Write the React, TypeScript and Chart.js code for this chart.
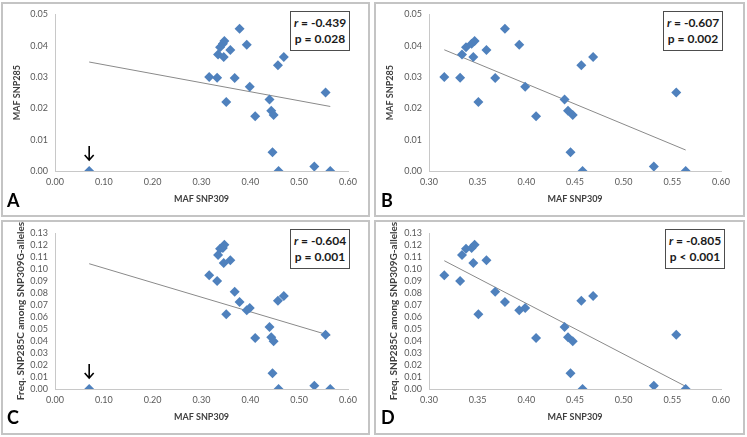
import React, { useEffect, useRef } from "react";
import { Chart, registerables } from "chart.js";

Chart.register(...registerables);

// ---- data ----
const snp309 = [0.3157, 0.332, 0.3339, 0.338, 0.3438, 0.3469, 0.3455, 0.3507, 0.359, 0.368, 0.378, 0.3927, 0.3988, 0.41, 0.4393, 0.4428, 0.4477, 0.4454, 0.4565, 0.4578, 0.4686, 0.531, 0.554, 0.5637];
const snp285 = [0.03, 0.0298, 0.0372, 0.0395, 0.0406, 0.0415, 0.0364, 0.022, 0.0386, 0.0297, 0.0454, 0.0403, 0.0269, 0.0175, 0.0228, 0.0192, 0.0179, 0.006, 0.0338, 0.0, 0.0364, 0.0014, 0.0251, 0.0];
const freq285C = [0.0947, 0.09, 0.1117, 0.1169, 0.1175, 0.1203, 0.105, 0.0622, 0.1072, 0.0811, 0.0725, 0.0656, 0.0675, 0.0425, 0.0517, 0.0431, 0.0397, 0.0131, 0.0736, 0.0, 0.0775, 0.0028, 0.0453, 0.0];
const outlierSnp309 = [0.07];
const outlierSnp285 = [0.0];
const outlierFreq = [0.0];

const trendAx = [0.07, 0.5637];
const trendAy = [0.0348, 0.0206];
const trendBx = [0.3157, 0.5637];
const trendBy = [0.0387, 0.0067];
const trendCx = [0.07, 0.5637];
const trendCy = [0.1044, 0.0445];
const trendDx = [0.3157, 0.5637];
const trendDy = [0.1069, 0.0022];

// tick labels
const xTicksWide = [0, 0.1, 0.2, 0.3, 0.4, 0.5, 0.6];
const xTicksNarrow = [0.3, 0.35, 0.4, 0.45, 0.5, 0.55, 0.6];
const yTicksMaf = [0, 0.01, 0.02, 0.03, 0.04, 0.05];
const yTicksFreq = [0, 0.01, 0.02, 0.03, 0.04, 0.05, 0.06, 0.07, 0.08, 0.09, 0.1, 0.11, 0.12, 0.13];

const rLabels = ["-0.439", "-0.607", "-0.604", "-0.805"];
const pLabels = ["p = 0.028", "p = 0.002", "p = 0.001", "p < 0.001"];
const panelLetters = ["A", "B", "C", "D"];
const xTitle = "MAF SNP309";
const yTitles = ["MAF SNP285", "MAF SNP285", "Freq. SNP285C among SNP309G-alleles", "Freq. SNP285C among SNP309G-alleles"];

const FONT = "Lato, 'Open Sans', sans-serif";
const BLUE = "#4F81BD";

const pts = (xs: number[], ys: number[]) => xs.map((x, i) => ({ x, y: ys[i] }));

const arrowPlugin = {
  id: "arrowMark",
  afterDatasetsDraw(chart: any) {
    const opt = chart.options.plugins.arrowMark;
    if (!opt || !opt.show) return;
    const xs = chart.scales.x;
    const ys = chart.scales.y;
    const ctx = chart.ctx;
    const px = xs.getPixelForValue(opt.x);
    const py = ys.getPixelForValue(opt.y);
    ctx.save();
    ctx.strokeStyle = "#000";
    ctx.lineWidth = 1.6;
    ctx.beginPath();
    ctx.moveTo(px, py - 25);
    ctx.lineTo(px, py - 11);
    ctx.moveTo(px - 4.5, py - 16);
    ctx.lineTo(px, py - 11);
    ctx.lineTo(px + 4.5, py - 16);
    ctx.stroke();
    ctx.restore();
  },
};

type PanelCfg = {
  left: number; top: number; w: number; h: number;
  area: { l: number; r: number; t: number; b: number };
  xTicks: number[]; yTicks: number[];
  xs: number[]; ys: number[];
  tx: number[]; ty: number[];
  arrow: boolean;
  idx: number;
  yTitleSize: number; yTitlePad: number;
  box: { l: number; t: number; w: number; h: number };
  letter: { l: number; t: number };
};

const panels: PanelCfg[] = [
  { left: 1, top: 2, w: 369, h: 215, area: { l: 54, r: 347, t: 12, b: 169 }, xTicks: xTicksWide, yTicks: yTicksMaf,
    xs: [...outlierSnp309, ...snp309], ys: [...outlierSnp285, ...snp285], tx: trendAx, ty: trendAy, arrow: true, idx: 0,
    yTitleSize: 9, yTitlePad: 11, box: { l: 290, t: 11, w: 60, h: 40 }, letter: { l: 7, t: 189 } },
  { left: 374, top: 2, w: 371, h: 215, area: { l: 55, r: 347, t: 12, b: 169 }, xTicks: xTicksNarrow, yTicks: yTicksMaf,
    xs: snp309, ys: snp285, tx: trendBx, ty: trendBy, arrow: false, idx: 1,
    yTitleSize: 9, yTitlePad: 11, box: { l: 663, t: 11, w: 60, h: 40 }, letter: { l: 381, t: 189 } },
  { left: 1, top: 220, w: 369, h: 215, area: { l: 54, r: 347, t: 13, b: 169 }, xTicks: xTicksWide, yTicks: yTicksFreq,
    xs: [...outlierSnp309, ...snp309], ys: [...outlierFreq, ...freq285C], tx: trendCx, ty: trendCy, arrow: true, idx: 2,
    yTitleSize: 10, yTitlePad: 14, box: { l: 290, t: 229, w: 60, h: 40 }, letter: { l: 7, t: 406 } },
  { left: 374, top: 220, w: 371, h: 215, area: { l: 55, r: 347, t: 13, b: 169 }, xTicks: xTicksNarrow, yTicks: yTicksFreq,
    xs: snp309, ys: freq285C, tx: trendDx, ty: trendDy, arrow: false, idx: 3,
    yTitleSize: 10, yTitlePad: 14, box: { l: 665, t: 229, w: 60, h: 40 }, letter: { l: 381, t: 406 } },
];

function Panel({ cfg }: { cfg: PanelCfg }) {
  const ref = useRef<HTMLCanvasElement | null>(null);
  useEffect(() => {
    if (!ref.current) return;
    const a = cfg.area;
    const chart = new Chart(ref.current, {
      type: "scatter",
      data: {
        datasets: [
          {
            data: pts(cfg.tx, cfg.ty),
            showLine: true,
            borderColor: "#8a8a8a",
            borderWidth: 1,
            pointRadius: 0,
            order: 2,
          },
          {
            data: pts(cfg.xs, cfg.ys),
            pointStyle: "rectRot",
            pointRadius: 5,
            backgroundColor: BLUE,
            borderColor: BLUE,
            borderWidth: 0,
            order: 1,
          },
        ],
      },
      options: {
        responsive: false,
        animation: false,
        events: [],
        layout: { padding: { left: 0, top: a.t, right: cfg.w - a.r, bottom: 0 } },
        plugins: {
          legend: { display: false },
          tooltip: { enabled: false },
          arrowMark: { show: cfg.arrow, x: outlierSnp309[0], y: 0 },
        } as any,
        scales: {
          x: {
            type: "linear",
            min: cfg.xTicks[0],
            max: cfg.xTicks[cfg.xTicks.length - 1],
            afterFit: (s: any) => { s.height = cfg.h - a.b; },
            afterBuildTicks: (s: any) => { s.ticks = cfg.xTicks.map((v) => ({ value: v })); },
            ticks: {
              autoSkip: false,
              color: "#595959",
              font: { family: FONT, size: 9 },
              padding: 6,
              maxRotation: 0,
              callback: (v: any) => Number(v).toFixed(2),
            },
            grid: { display: false, drawTicks: false },
            border: { display: true, color: "#c8c8c8", width: 1 },
            title: {
              display: true,
              text: xTitle,
              color: "#404040",
              font: { family: FONT, size: 9, weight: "bold", lineHeight: 1.2 },
              padding: { top: 0, bottom: 13 },
            },
          },
          y: {
            type: "linear",
            min: cfg.yTicks[0],
            max: cfg.yTicks[cfg.yTicks.length - 1],
            afterFit: (s: any) => { s.width = a.l; },
            afterBuildTicks: (s: any) => { s.ticks = cfg.yTicks.map((v) => ({ value: v })); },
            ticks: {
              autoSkip: false,
              color: "#595959",
              font: { family: FONT, size: 9 },
              padding: 7,
              callback: (v: any) => Number(v).toFixed(2),
            },
            grid: { display: false, drawTicks: false },
            border: { display: true, color: "#c8c8c8", width: 1 },
            title: {
              display: true,
              text: yTitles[cfg.idx],
              color: "#404040",
              font: { family: FONT, size: cfg.yTitleSize, weight: "bold", lineHeight: 1.2 },
              padding: { top: cfg.yTitlePad, bottom: 0 },
            },
          },
        },
      } as any,
      plugins: [arrowPlugin],
    });
    return () => chart.destroy();
  }, [cfg]);

  return (
    <>
      <canvas
        ref={ref}
        width={cfg.w}
        height={cfg.h}
        style={{ position: "absolute", left: cfg.left, top: cfg.top, width: cfg.w, height: cfg.h }}
      />
      <div
        style={{
          position: "absolute", left: cfg.left, top: cfg.top, width: cfg.w, height: cfg.h,
          border: "2px solid #c4c4c4", boxSizing: "border-box", pointerEvents: "none",
        }}
      />
      <div
        style={{
          position: "absolute", left: cfg.box.l, top: cfg.box.t, width: cfg.box.w, height: cfg.box.h,
          border: "1px solid #4d4d4d", boxSizing: "border-box", background: "#fff",
          fontFamily: FONT, fontWeight: "bold", fontSize: 12, color: "#1a1a1a",
          display: "flex", flexDirection: "column", justifyContent: "center", alignItems: "center", lineHeight: "16px",
        }}
      >
        <div><i>r</i> = {rLabels[cfg.idx]}</div>
        <div>{pLabels[cfg.idx]}</div>
      </div>
      <div
        style={{
          position: "absolute", left: cfg.letter.l, top: cfg.letter.t,
          fontFamily: FONT, fontWeight: "bold", fontSize: 18, lineHeight: "22px", color: "#000",
        }}
      >
        {panelLetters[cfg.idx]}
      </div>
    </>
  );
}

export default function App() {
  return (
    <div style={{ position: "absolute", left: 0, top: 0, width: 747, height: 437, background: "#fff", overflow: "hidden" }}>
      {panels.map((p) => (
        <Panel key={p.idx} cfg={p} />
      ))}
    </div>
  );
}
